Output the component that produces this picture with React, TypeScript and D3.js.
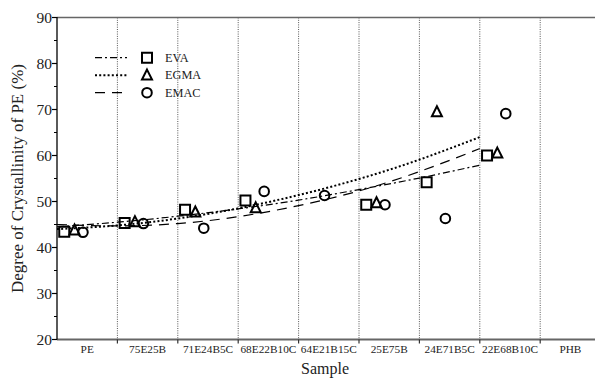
import * as d3 from "d3";

// categories along the x axis (one band per sample)
const categories = ["PE", "75E25B", "71E24B5C", "68E22B10C", "64E21B15C", "25E75B", "24E71B5C", "22E68B10C", "PHB"];

// measured crystallinity (%), null = no point drawn
const evaValues = [43.4, 45.3, 48.2, 50.2, null, 49.3, 54.2, 60.0, null];
const egmaValues = [43.8, 45.6, 47.7, 48.6, null, 49.7, 69.5, 60.5, null];
const emacValues = [43.3, 45.2, 44.2, 52.2, 51.3, 49.3, 46.3, 69.1, null];

// trend curves, read at the band edges 0..7
const fitPositions = [0, 1, 2, 3, 4, 5, 6, 7];
const evaFit = [44.5, 45.5, 46.8, 48.4, 50.3, 52.6, 55.1, 57.9];
const egmaFit = [44.0, 44.8, 46.3, 48.5, 51.4, 54.9, 59.1, 64.0];
const emacFit = [45.0, 44.7, 45.2, 46.7, 49.1, 52.3, 56.5, 61.5];

const yMajor = [20, 30, 40, 50, 60, 70, 80, 90];
const yMinor = [25, 35, 45, 55, 65, 75, 85];

type Marker = "square" | "triangle" | "circle";

const series: { name: string; values: (number | null)[]; fit: number[]; offset: number; marker: Marker; dash: string; width: number }[] = [
  { name: "EVA", values: evaValues, fit: evaFit, offset: 0.12, marker: "square", dash: "7,3,2,3", width: 1.2 },
  { name: "EGMA", values: egmaValues, fit: egmaFit, offset: 0.29, marker: "triangle", dash: "2,2.2", width: 2 },
  { name: "EMAC", values: emacValues, fit: emacFit, offset: 0.43, marker: "circle", dash: "10,7", width: 1.2 },
];

const W = 595;
const H = 379;
const FONT = '"Liberation Serif", Tinos, "Times New Roman", Times, "DejaVu Serif", serif';

function markerPath(kind: Marker) {
  if (kind === "square") return d3.symbol(d3.symbolSquare, 100)()!;
  if (kind === "circle") return d3.symbol(d3.symbolCircle, 72)()!;
  return "M0,-5.6L5,4.4L-5,4.4Z";
}

export default function App() {
  const x = d3.scaleLinear().domain([0, 9]).range([57, 600.6]);
  const y = d3.scaleLinear().domain([20, 90]).range([339.5, 17.5]);
  const left = x(0);
  const top = y(90);
  const bottom = y(20);

  const line = d3
    .line<[number, number]>()
    .x((d) => x(d[0]))
    .y((d) => y(d[1]))
    .curve(d3.curveNatural);

  const edges = d3.range(1, 9);

  return (
    <svg width={W} height={H} style={{ position: "absolute", left: 0, top: 0, background: "#fff", fontFamily: FONT }}>
      {/* dotted vertical grid at sample boundaries */}
      {edges.map((e) => (
        <line key={"g" + e} x1={x(e)} x2={x(e)} y1={top} y2={bottom} stroke="#555" strokeWidth={1} strokeDasharray="1,1.3" />
      ))}

      {/* frame */}
      <line x1={left} x2={W + 10} y1={top} y2={top} stroke="#666" strokeWidth={1.5} />
      <line x1={left} x2={W + 10} y1={bottom} y2={bottom} stroke="#666" strokeWidth={2} />
      <line x1={left} x2={left} y1={top - 0.5} y2={bottom} stroke="#000" strokeWidth={1.3} />

      {/* y ticks */}
      {yMajor.map((v) => (
        <g key={"ym" + v}>
          <line x1={left - 5} x2={left} y1={y(v)} y2={y(v)} stroke="#000" strokeWidth={1.2} />
          <text x={left - 5} y={y(v)} dy="0.34em" textAnchor="end" fontSize={15.5} fill="#222">
            {v}
          </text>
        </g>
      ))}
      {yMinor.map((v) => (
        <line key={"yn" + v} x1={left - 3} x2={left} y1={y(v)} y2={y(v)} stroke="#000" strokeWidth={1} />
      ))}

      {/* x ticks and category labels */}
      {edges.map((e) => (
        <line key={"xt" + e} x1={x(e)} x2={x(e)} y1={bottom} y2={bottom + 4} stroke="#333" strokeWidth={1.2} />
      ))}
      {categories.map((c, i) => (
        <text key={c} x={x(i + 0.5)} y={bottom + 13} textAnchor="middle" fontSize={11.3} fill="#222">
          {c}
        </text>
      ))}

      {/* axis titles */}
      <text x={325} y={374} textAnchor="middle" fontSize={16} fill="#222">
        Sample
      </text>
      <text transform={`translate(23,${(top + bottom) / 2}) rotate(-90)`} textAnchor="middle" fontSize={17} fill="#222">
        Degree of Crystallinity of PE (%)
      </text>

      {/* trend curves */}
      {series.map((s) => (
        <path
          key={"f" + s.name}
          d={line(fitPositions.map((p, i) => [p, s.fit[i]] as [number, number]))!}
          fill="none"
          stroke="#000"
          strokeWidth={s.width}
          strokeDasharray={s.dash}
        />
      ))}

      {/* data markers */}
      {series.map((s) =>
        s.values.map((v, i) =>
          v === null ? null : (
            <path
              key={s.name + i}
              d={markerPath(s.marker)}
              transform={`translate(${x(i + s.offset)},${y(v)})`}
              fill="none"
              stroke="#000"
              strokeWidth={2}
            />
          )
        )
      )}

      {/* legend */}
      {series.map((s, i) => {
        const ly = 57.7 + i * 17.5;
        return (
          <g key={"l" + s.name}>
            <line x1={95} x2={127} y1={ly} y2={ly} stroke="#000" strokeWidth={s.width} strokeDasharray={s.dash} />
            <path d={markerPath(s.marker)} transform={`translate(147,${ly})`} fill="none" stroke="#000" strokeWidth={2} />
            <text x={165} y={ly} dy="0.34em" fontSize={12.3} fill="#222">
              {s.name}
            </text>
          </g>
        );
      })}
    </svg>
  );
}
